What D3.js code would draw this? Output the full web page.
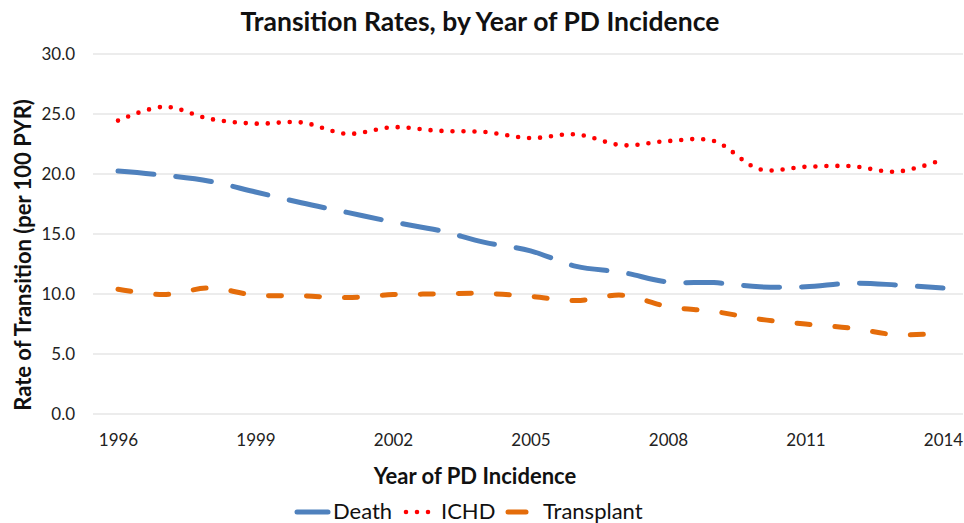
<!DOCTYPE html>
<html><head><meta charset="utf-8">
<script src="https://cdn.jsdelivr.net/npm/d3@7"></script>
<style>body{margin:0;background:#fff}svg{display:block}text{font-family:Lato,"Open Sans",sans-serif}</style>
</head><body><svg id="c" width="964" height="523"></svg>
<script>
const years = [1996,1997,1998,1999,2000,2001,2002,2003,2004,2005,2006,2007,2008,2009,2010,2011,2012,2013,2014];
const death = [20.25,19.9,19.4,18.5,17.6,16.8,16.0,15.3,14.3,13.6,12.3,11.8,11.0,10.95,10.6,10.6,10.9,10.75,10.5];
const ichd = [24.45,25.6,24.6,24.2,24.3,23.35,23.9,23.6,23.5,23.0,23.3,22.4,22.75,22.75,20.4,20.6,20.65,20.2,21.2];
const transplant = [10.4,9.95,10.5,9.9,9.85,9.7,9.95,10.0,10.05,9.8,9.45,9.9,8.95,8.55,7.9,7.5,7.15,6.6,6.75];
const yTicks = [0,5,10,15,20,25,30];
const xTicks = [1996,1999,2002,2005,2008,2011,2014];

const svg = d3.select("#c");
const x = d3.scaleLinear().domain([1996,2014]).range([118,943]);
const y = d3.scaleLinear().domain([0,30]).range([414,54]);
const FONT = "Lato,'Open Sans',sans-serif";

// gridlines
svg.append("g").selectAll("line").data(yTicks).join("line")
  .attr("x1",93).attr("x2",963).attr("y1",d=>y(d)).attr("y2",d=>y(d))
  .attr("stroke","#d9d9d9").attr("stroke-width",1);

// y axis labels
const ya = svg.append("g").attr("transform","translate(75,0)")
  .call(d3.axisLeft(y).tickValues(yTicks).tickFormat(d3.format(".1f")).tickSize(0).tickPadding(0));
ya.select(".domain").remove();
ya.selectAll("text").attr("font-size",17).attr("fill","#222").style("font-family",FONT);

// x axis labels
const xa = svg.append("g").attr("transform","translate(0,434)")
  .call(d3.axisBottom(x).tickValues(xTicks).tickFormat(d3.format("d")).tickSize(0).tickPadding(0));
xa.select(".domain").remove();
xa.selectAll("text").attr("font-size",17).attr("fill","#222").style("font-family",FONT);

const line = d3.line().x((d,i)=>x(years[i])).y(d=>y(d)).curve(d3.curveCatmullRom.alpha(0.5));

const series = [
  {name:"Death", data:death, color:"#4F81BD", dash:"36,22", w:5},
  {name:"ICHD", data:ichd, color:"#FF0000", dash:"0,11", w:4.6},
  {name:"Transplant", data:transplant, color:"#E46C0A", dash:"13,25", w:5}
];
series.forEach(s=>{
  svg.append("path").attr("d",line(s.data)).attr("fill","none")
    .attr("stroke",s.color).attr("stroke-width",s.w)
    .attr("stroke-dasharray",s.dash).attr("stroke-linecap","round");
});

// title
svg.append("text").attr("x",480).attr("y",31).attr("text-anchor","middle")
  .attr("font-size",26.5).attr("font-weight","bold").attr("fill","#111")
  .text("Transition Rates, by Year of PD Incidence");
// axis titles
svg.append("text").attr("transform","translate(31,255) rotate(-90)").attr("text-anchor","middle")
  .attr("font-size",22).attr("font-weight","bold").attr("fill","#111")
  .text("Rate of Transition (per 100 PYR)");
svg.append("text").attr("x",475).attr("y",484).attr("text-anchor","middle")
  .attr("font-size",22).attr("font-weight","bold").attr("fill","#111")
  .text("Year of PD Incidence");

// legend
const leg = [
  {name:"Death", color:"#4F81BD", dash:null, x1:297, x2:328, tx:333, w:5},
  {name:"ICHD", color:"#FF0000", dash:"0,11", x1:406, x2:430, tx:441, w:4.6},
  {name:"Transplant", color:"#E46C0A", dash:null, x1:508, x2:526, tx:543, w:5}
];
leg.forEach(l=>{
  const ln = svg.append("line").attr("x1",l.x1).attr("x2",l.x2).attr("y1",512).attr("y2",512)
    .attr("stroke",l.color).attr("stroke-width",l.w).attr("stroke-linecap","round");
  if(l.dash) ln.attr("stroke-dasharray",l.dash);
  svg.append("text").attr("x",l.tx).attr("y",519).attr("font-size",22).attr("fill","#111").text(l.name);
});
</script></body></html>
